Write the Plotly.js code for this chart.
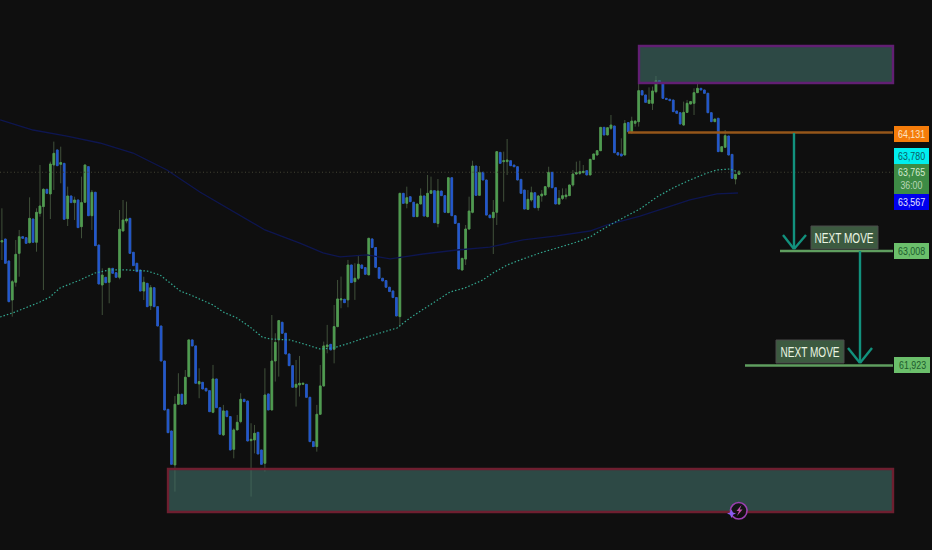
<!DOCTYPE html>
<html>
<head>
<meta charset="utf-8">
<script src="https://cdn.plot.ly/plotly-3.0.1.min.js"></script>
<style>html,body{margin:0;padding:0;background:#0f0f0f}#c{width:932px;height:550px}</style>
</head>
<body>
<div id="c"></div>
<script>
const opens = [
63094,63122,62914,62544,62712,62986,63144,63135,63087,63312,
63091,63365,63429,63593,63549,63824,63966,63830,63839,63315,
63530,63467,63492,63239,63470,63808,63343,63565,63065,62686,
62759,62712,62844,62803,62759,63198,63293,63318,62996,62892,
62828,62629,62702,62490,62661,62481,62298,61966,61508,61303,
60981,61556,61651,61559,61818,62166,62109,61749,61764,61707,
61685,61480,61796,61524,61265,61493,61439,61129,61313,61392,
61603,61587,61211,61218,61290,61123,60997,61654,61502,61966,
62166,62333,62229,62033,61922,61717,61739,61745,61745,61622,
61202,61155,61461,61730,62102,62124,62077,62292,62545,62551,
62545,62876,62718,62750,62876,62851,62782,63123,63041,62851,
62750,62728,62665,62630,62567,62387,63555,63460,63523,63470,
63334,63454,63530,63334,63555,63580,63270,63577,63533,63372,
63703,63343,63270,62828,62932,63217,63375,63814,63536,63754,
63681,63349,63324,63375,63943,63855,63855,63864,63823,63807,
63687,63586,63403,63492,63561,63419,63530,63539,63618,63754,
63608,63454,63507,63523,63533,63634,63738,63744,63751,63770,
63729,63877,63918,63959,64180,64108,64171,64193,63940,63928,
63918,64225,64130,64218,64234,64528,64487,64408,64408,64518,
64623,64597,64455,64446,64439,64335,64319,64202,64322,64401,
64408,64509,64550,64534,64503,64319,64234,64266,63950,63991,
64098,63924,63691,63735];
const closes = [
63106,62892,62528,62718,62977,63144,63129,63081,63318,63091,
63375,63435,63593,63555,63833,63934,63817,63846,63309,63530,
63467,63492,63230,63467,63824,63343,63565,63059,62696,62781,
62708,62844,62797,62759,63214,63302,63312,62986,62870,62813,
62629,62712,62481,62661,62481,62298,61966,61502,61287,60987,
61556,61651,61556,61812,62166,62109,61755,61771,61701,61682,
61486,61796,61524,61272,61493,61439,61123,61313,61385,61603,
61581,61208,61224,61281,61085,60987,61644,61502,61966,62143,
62349,62229,62033,61922,61717,61745,61755,61755,61622,61202,
61155,61461,61730,62109,62118,62071,62292,62554,62554,62519,
62876,62709,62750,62883,62845,62788,63129,63041,62854,62750,
62725,62665,62624,62567,62393,63555,63460,63514,63476,63334,
63454,63530,63340,63555,63580,63277,63577,63533,63375,63703,
63343,63270,62838,62939,63217,63387,63814,63536,63754,63681,
63349,63324,63375,63950,63839,63864,63871,63817,63807,63681,
63555,63406,63498,63561,63419,63530,63548,63618,63754,63608,
63454,63507,63533,63539,63634,63738,63751,63760,63763,63729,
63877,63928,63959,64180,64108,64177,64202,63940,63918,63909,
64218,64139,64240,64240,64528,64487,64417,64439,64525,64623,
64597,64455,64446,64433,64329,64313,64212,64322,64408,64424,
64509,64550,64534,64503,64319,64234,64259,63950,63997,64101,
63918,63697,63735,63760];
const wickHighs = [
63413,null,null,62734,63113,63208,null,null,63517,null,
63413,63824,63602,null,63855,64045,null,63997,null,63618,
null,63523,null,63713,null,null,63587,null,null,62844,
null,62844,null,null,63397,63492,63476,null,null,null,
null,62765,null,62686,null,null,null,null,null,null,
61635,61850,null,61881,null,null,null,61897,null,null,
null,61929,null,null,61550,null,null,61328,61455,61660,
null,null,61376,61360,null,null,61897,null,62402,62229,
62355,null,null,null,null,61976,62014,null,null,null,
null,61550,61929,62150,62308,null,62497,62734,62766,null,
62924,null,62892,62971,null,null,null,null,null,null,
null,null,null,null,null,null,null,63618,null,null,
null,63602,null,63729,63713,null,63691,null,null,null,
null,null,null,null,63255,63523,63864,null,63814,null,
null,null,63492,null,null,63950,64070,null,null,null,
null,null,63586,63618,null,63539,63586,null,63807,null,
null,63586,63602,63602,null,63776,63855,63864,63823,null,
null,null,null,null,null,null,64297,null,null,64076,
64250,null,64281,null,64724,null,null,64559,64566,64667,
null,null,null,null,null,null,null,64424,64440,null,
64550,64597,null,null,null,null,null,null,null,64155,
null,null,null,63776];
const wickLows = [
62923,null,null,62386,62671,62765,null,null,63081,null,
63002,63334,62639,null,63312,63587,null,63650,null,63245,
null,63302,null,63129,null,null,63208,null,null,62402,
null,62513,null,null,62740,null,63271,null,null,null,
null,62544,null,62449,null,null,null,null,null,null,
60728,61550,null,61550,null,null,null,61613,null,null,
null,61471,null,null,61256,null,null,61044,null,61376,
null,null,60681,61091,null,null,60918,null,null,61771,
61818,null,null,null,null,61534,61629,null,null,null,
null,61107,61455,61723,62039,null,61944,62286,62466,null,
62475,null,62545,62734,null,null,null,null,null,null,
null,null,null,null,null,62292,null,63413,null,null,
null,null,null,63327,null,null,63233,null,null,null,
null,null,null,null,62876,63207,63365,null,null,null,
null,null,62980,63255,null,63476,63729,null,null,null,
null,null,63397,63476,null,63390,63476,null,63602,null,
null,63444,63492,63498,null,63618,63729,63729,63744,null,
null,null,null,null,null,null,64155,null,null,null,
null,null,64123,64187,64187,null,null,null,64345,64503,
null,null,null,null,null,null,null,64196,null,null,
64297,null,null,null,null,null,null,null,null,null,
null,null,63640,null];

const fastMaX = [-0.5,3.8,11,13.9,16.8,22.6,26.9,31.2,36.2,41.9,45.7,48.6,51.5,55.2,61,63.9,67.9,71.7,75.2,77.5,83.3,88.2,91.9,95.7,100.6,106.4,110.1,114.2,117.9,123.7,129.5,133.8,139,141.9,146,149.7,155.5,161.3,166.2,169.9,175.7,180,184.4,189.3,193.9,198.8,203.8,206.6,210.4,212.7];
const fastMaY = [62383,62430,62525,62573,62658,62734,62800,62829,62829,62819,62781,62705,62630,62582,62497,62431,62374,62288,62193,62175,62165,62118,62080,62089,62137,62203,62241,62279,62374,62497,62620,62658,62734,62800,62876,62923,62990,63046,63094,63141,63255,63331,63407,63520,63606,63681,63748,63776,63786,63757];
const slowMaX = [-0.5,9,18.8,28.3,37.9,47.7,57.2,68.8,76,86.1,92.8,97.7,105.5,112.2,121.7,131.5,141,150.6,160.4,169.9,174.9,184.4,191,198.8,206.6,212.7];
const slowMaY = [64250,64155,64098,64032,63937,63776,63568,63350,63208,63084,62990,62952,62971,62933,62980,63018,63046,63113,63151,63198,63255,63340,63407,63492,63549,63558];

const priceLabels = ["64,131","63,780","63,765","36:00","63,567","63,008","61,923"];
const moveLabel = "NEXT MOVE";
const resistanceLevel = 64131, target1 = 63008, target2 = 61923, lastPrice = 63755;
const topZone = [64951, 64600], bottomZone = [60943, 60535];

const W = 932, H = 550;
const yRange = [60175, 65387];
const xRange = [-0.549, 268.77];
const xs = opens.map((_, i) => i);
const fx = p => p / W, fy = p => 1 - p / H;

const traces = [
  { type:'candlestick', x:xs, open:opens, close:closes,
    high:opens.map((o,i)=>wickHighs[i] ?? Math.max(o,closes[i])),
    low:opens.map((o,i)=>wickLows[i] ?? Math.min(o,closes[i])),
    width:0.05, whiskerwidth:0,
    increasing:{line:{color:'#46583f',width:0.9},fillcolor:'#46583f'},
    decreasing:{line:{color:'#46583f',width:0.9},fillcolor:'#46583f'},
    hoverinfo:'skip', showlegend:false },
  { type:'candlestick', x:xs, open:opens, close:closes,
    high:opens.map((o,i)=>Math.max(o,closes[i])),
    low:opens.map((o,i)=>Math.min(o,closes[i])),
    width:0.8, whiskerwidth:0,
    increasing:{line:{color:'#4f9d50',width:0.8},fillcolor:'#4f9d50'},
    decreasing:{line:{color:'#2257d0',width:0.8},fillcolor:'#2257d0'},
    hoverinfo:'skip', showlegend:false },
  { type:'scatter', mode:'lines', x:slowMaX, y:slowMaY, line:{color:'#0e1650',width:1.3}, hoverinfo:'skip', showlegend:false },
  { type:'scatter', mode:'lines', x:fastMaX, y:fastMaY, line:{color:'#33a890',width:1.2,dash:'1.5px,2px'}, hoverinfo:'skip', showlegend:false }
];

const shapes = [];
const seg = (x0,y0,x1,y1,color,width,dash) => shapes.push({type:'line',xref:'paper',yref:'paper',x0:fx(x0),y0:fy(y0),x1:fx(x1),y1:fy(y1),line:{color,width,dash:dash||'solid'},layer:'above'});
const hline = (x0,x1,level,color,width,dash) => shapes.push({type:'line',xref:'paper',yref:'y',x0:fx(x0),x1:fx(x1),y0:level,y1:level,line:{color,width,dash:dash||'solid'},layer:'above'});
const box = (x0,y0,x1,y1,fill,line,lw) => shapes.push({type:'rect',xref:'paper',yref:'paper',x0:fx(x0),y0:fy(y0),x1:fx(x1),y1:fy(y1),fillcolor:fill,line:{color:line||fill,width:lw||0},layer:'above'});
const zone = (x0,x1,r,line) => shapes.push({type:'rect',xref:'paper',yref:'y',x0:fx(x0),x1:fx(x1),y0:r[0],y1:r[1],fillcolor:'rgba(65,112,105,0.6)',line:{color:line,width:2.4},layer:'above'});

hline(0,893,lastPrice,'#454535',1,'1px,2.5px');
zone(639,893,topZone,'#621f73');
zone(168,893,bottomZone,'#6e1f30');
hline(628,893,resistanceLevel,'#95561a',2.6);
hline(780,893,target1,'#5f9e5f',2.4);
hline(745,893,target2,'#5f9e5f',2.4);

// arrows
const arrow = '#12917d';
seg(794,133,794,249,arrow,2.4); seg(783,235,794,249,arrow,2.4); seg(806,235,794,249,arrow,2.4);
seg(860,251,860,363,arrow,2.4); seg(848,348,860,363,arrow,2.4); seg(872,348,860,363,arrow,2.4);

// text boxes
box(811,226,878,249,'#3c5a40','#4a4a4a',1);
box(776,340,844,363,'#3c5a40','#4a4a4a',1);

// price tags
box(894,126,929,142,'#f57c0a');
box(894,148,929,164,'#00eeee');
box(894,164,929,194,'#3d8b45');
box(894,194,929,210,'#0000ee');
box(894,243,929,259,'#6bbf6b');
box(894,357,930,373,'#6bbf6b');

// bolt badge
shapes.push({type:'circle',xref:'paper',yref:'paper',x0:fx(730.5),x1:fx(747),y0:fy(519),y1:fy(502.5),line:{color:'#9b3fb0',width:1.6},fillcolor:'rgba(15,15,15,0.9)',layer:'above'});
const P = (x,y)=>fx(x)+','+fy(y);
shapes.push({type:'path',xref:'paper',yref:'paper',path:`M${P(741.5,505)} L${P(736.5,511)} L${P(739,511)} L${P(737,516)} L${P(742.5,509.5)} L${P(739.8,509.5)} Z`,fillcolor:'#c050b0',line:{width:0},layer:'above'});
shapes.push({type:'path',xref:'paper',yref:'paper',path:`M${P(731.5,509.5)} L${P(733,512.5)} L${P(736,513.5)} L${P(733,514.8)} L${P(731.5,518)} L${P(730,514.8)} L${P(727,513.5)} L${P(730,512.5)} Z`,fillcolor:'#8a5cf0',line:{width:0},layer:'above'});

const FONT = '"Liberation Sans",sans-serif';
const txt = (x,y,text,color,size) => ({xref:'paper',yref:'paper',x:fx(x),y:fy(y),text,showarrow:false,xanchor:'center',yanchor:'middle',font:{family:FONT,size,color}});
const annotations = [
  txt(911.5,134,priceLabels[0],'#fbe3c4',11.5),
  txt(911.5,156,priceLabels[1],'#0d5a62',11.5),
  txt(911.5,172,priceLabels[2],'#d4ecd0',11.5),
  txt(911.5,185,priceLabels[3],'#b9d6b6',11.5),
  txt(911.5,202,priceLabels[4],'#e6e6ff',11.5),
  txt(911.5,251,priceLabels[5],'#1d5a2c',11.5),
  txt(912,365,priceLabels[6],'#1d5a2c',11.5),
  txt(844,237.5,moveLabel,'#eaf5e2',15),
  txt(809.5,351.5,moveLabel,'#eaf5e2',15)
];
const squeeze = {"NEXT MOVE":59,"36:00":22};

Plotly.newPlot('c', traces, {
  width:W, height:H, margin:{l:0,r:0,t:0,b:0,pad:0},
  paper_bgcolor:'#0f0f0f', plot_bgcolor:'#0f0f0f',
  showlegend:false, boxmode:'overlay',
  xaxis:{range:xRange, visible:false, fixedrange:true, rangeslider:{visible:false}},
  yaxis:{range:yRange, visible:false, fixedrange:true},
  shapes, annotations
}, {displayModeBar:false, staticPlot:true}).then(() => {
  document.querySelectorAll('#c .annotation-text').forEach(t => {
    t.setAttribute('textLength', squeeze[t.textContent] || 27);
    t.setAttribute('lengthAdjust', 'spacingAndGlyphs');
  });
});
</script>
</body>
</html>
